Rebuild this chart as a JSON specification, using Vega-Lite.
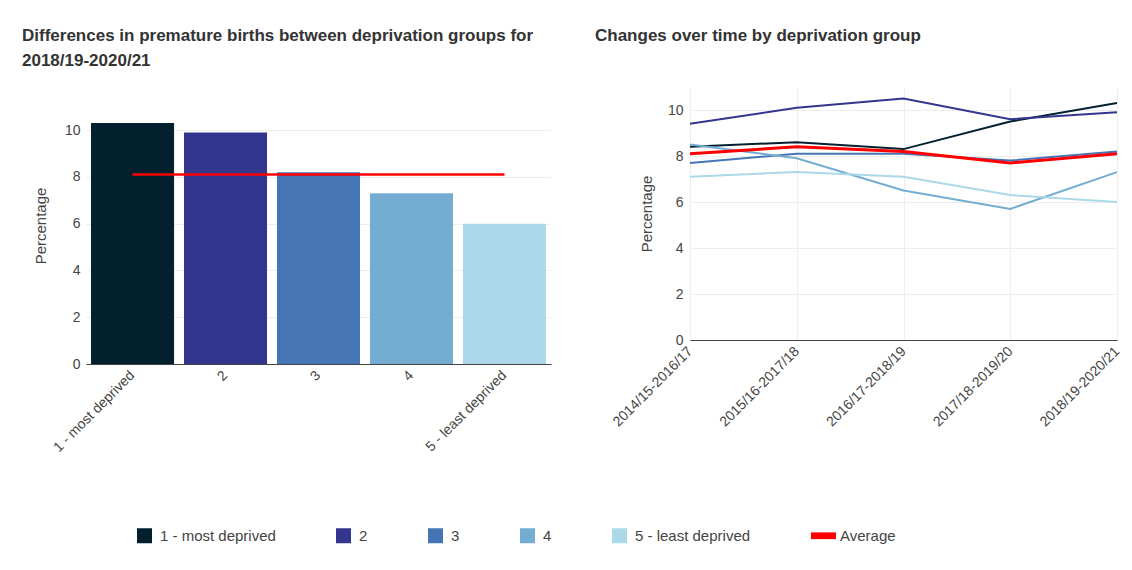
{
  "$schema": "https://vega.github.io/schema/vega-lite/v6.json",
  "background": "white",
  "autosize": {"type": "pad"},
  "padding": {"left": 22, "top": 27, "right": 0, "bottom": 0},
  "datasets": {
    "bars": [
      {"group": "1 - most deprived", "pct": 10.3, "avg": 8.1},
      {"group": "2", "pct": 9.9, "avg": 8.1},
      {"group": "3", "pct": 8.2, "avg": 8.1},
      {"group": "4", "pct": 7.3, "avg": 8.1},
      {"group": "5 - least deprived", "pct": 6.0, "avg": 8.1}
    ],
    "trend": [
      {"period": "2014/15-2016/17", "group": "1 - most deprived", "pct": 8.4},
      {"period": "2015/16-2017/18", "group": "1 - most deprived", "pct": 8.6},
      {"period": "2016/17-2018/19", "group": "1 - most deprived", "pct": 8.3},
      {"period": "2017/18-2019/20", "group": "1 - most deprived", "pct": 9.5},
      {"period": "2018/19-2020/21", "group": "1 - most deprived", "pct": 10.3},
      {"period": "2014/15-2016/17", "group": "2", "pct": 9.4},
      {"period": "2015/16-2017/18", "group": "2", "pct": 10.1},
      {"period": "2016/17-2018/19", "group": "2", "pct": 10.5},
      {"period": "2017/18-2019/20", "group": "2", "pct": 9.6},
      {"period": "2018/19-2020/21", "group": "2", "pct": 9.9},
      {"period": "2014/15-2016/17", "group": "3", "pct": 7.7},
      {"period": "2015/16-2017/18", "group": "3", "pct": 8.1},
      {"period": "2016/17-2018/19", "group": "3", "pct": 8.1},
      {"period": "2017/18-2019/20", "group": "3", "pct": 7.8},
      {"period": "2018/19-2020/21", "group": "3", "pct": 8.2},
      {"period": "2014/15-2016/17", "group": "4", "pct": 8.5},
      {"period": "2015/16-2017/18", "group": "4", "pct": 7.9},
      {"period": "2016/17-2018/19", "group": "4", "pct": 6.5},
      {"period": "2017/18-2019/20", "group": "4", "pct": 5.7},
      {"period": "2018/19-2020/21", "group": "4", "pct": 7.3},
      {"period": "2014/15-2016/17", "group": "5 - least deprived", "pct": 7.1},
      {"period": "2015/16-2017/18", "group": "5 - least deprived", "pct": 7.3},
      {"period": "2016/17-2018/19", "group": "5 - least deprived", "pct": 7.1},
      {"period": "2017/18-2019/20", "group": "5 - least deprived", "pct": 6.3},
      {"period": "2018/19-2020/21", "group": "5 - least deprived", "pct": 6.0},
      {"period": "2014/15-2016/17", "group": "Average", "pct": 8.1},
      {"period": "2015/16-2017/18", "group": "Average", "pct": 8.4},
      {"period": "2016/17-2018/19", "group": "Average", "pct": 8.2},
      {"period": "2017/18-2019/20", "group": "Average", "pct": 7.7},
      {"period": "2018/19-2020/21", "group": "Average", "pct": 8.1}
    ]
  },
  "spacing": 44,
  "hconcat": [
    {
      "title": {
        "text": ["Differences in premature births between deprivation groups for", "2018/19-2020/21"],
        "anchor": "start",
        "frame": "group",
        "dx": -64,
        "offset": 17
      },
      "width": 465,
      "height": 277,
      "data": {"name": "bars"},
      "layer": [
        {
          "mark": {"type": "bar"},
          "encoding": {
            "x": {
              "field": "group", "type": "nominal", "sort": null,
              "scale": {"paddingInner": 0.107, "paddingOuter": 0.054},
              "axis": {"title": null, "labelAngle": -45, "labelBaseline": "middle", "grid": false, "ticks": false, "domainColor": "#444", "labelPadding": 9}
            },
            "y": {
              "field": "pct", "type": "quantitative",
              "scale": {"domain": [0, 11.84], "nice": false},
              "axis": {"title": "Percentage", "values": [0, 2, 4, 6, 8, 10], "titlePadding": 16, "labelPadding": 6}
            },
            "color": {
              "field": "group", "type": "nominal",
              "scale": {
                "domain": ["1 - most deprived", "2", "3", "4", "5 - least deprived", "Average"],
                "range": ["#03202f", "#32368f", "#4575b4", "#74add1", "#abd9e9", "#ff0000"]
              },
              "legend": {
                "orient": "none",
                "direction": "horizontal",
                "legendX": 51,
                "legendY": 441,
                "title": null,
                "symbolType": "square",
                "symbolSize": 225,
                "symbolStrokeWidth": 0,
                "labelFontSize": 15,
                "labelColor": "#444",
                "labelFont": "Liberation Sans",
                "columnPadding": 60,
                "labelOffset": 8,
                "encode": {
                  "symbols": {
                    "update": {
                      "shape": {"signal": "datum.value === 'Average' ? 'M-1,-0.45H2.33V0.45H-1Z' : 'square'"},
                      "strokeWidth": {"value": 0}
                    }
                  },
                  "labels": {
                    "update": {
                      "dx": {"signal": "datum.value === 'Average' ? 6 : 0"}
                    }
                  }
                }
              }
            }
          }
        },
        {
          "mark": {"type": "line", "strokeWidth": 2.5},
          "encoding": {
            "x": {"field": "group", "type": "nominal", "sort": null},
            "y": {"field": "avg", "type": "quantitative"},
            "color": {"datum": "Average", "type": "nominal"}
          }
        }
      ]
    },
    {
      "title": {
        "text": "Changes over time by deprivation group",
        "anchor": "start",
        "frame": "group",
        "dx": -95,
        "offset": 42
      },
      "width": 427,
      "height": 253,
      "data": {"name": "trend"},
      "mark": {"type": "line"},
      "encoding": {
        "x": {
          "field": "period", "type": "nominal", "sort": null,
          "scale": {"type": "point", "padding": 0},
          "axis": {"title": null, "labelAngle": -45, "labelBaseline": "middle", "grid": true, "ticks": false, "domainColor": "#444", "labelPadding": 9}
        },
        "y": {
          "field": "pct", "type": "quantitative",
          "scale": {"domain": [0, 11], "nice": false},
          "axis": {"title": "Percentage", "values": [0, 2, 4, 6, 8, 10], "titlePadding": 13, "labelPadding": 7}
        },
        "color": {"field": "group", "type": "nominal"},
        "strokeWidth": {"condition": {"test": "datum.group === 'Average'", "value": 3}, "value": 2}
      }
    }
  ],
  "config": {
    "font": "Liberation Sans",
    "view": {"stroke": null},
    "title": {"fontSize": 17, "fontWeight": "bold", "color": "#333", "font": "Liberation Sans", "lineHeight": 25},
    "axis": {
      "labelFontSize": 14,
      "labelColor": "#444",
      "labelFont": "Liberation Sans",
      "titleFontSize": 15,
      "titleFontWeight": "normal",
      "titleColor": "#444",
      "titleFont": "Liberation Sans",
      "gridColor": "#eeeeee",
      "gridWidth": 1
    },
    "axisY": {"domain": false, "ticks": false}
  }
}
